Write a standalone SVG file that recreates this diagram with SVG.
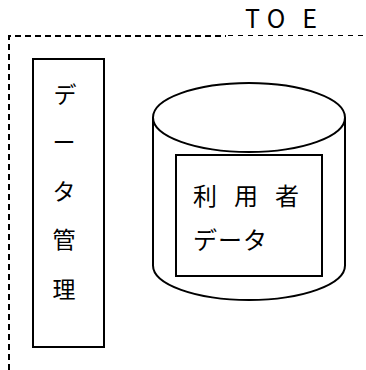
<svg xmlns="http://www.w3.org/2000/svg" width="366" height="370" viewBox="0 0 366 370">
<style>
.ln{fill:none;stroke:#000;stroke-width:2}
.thin{fill:none;stroke:#000;stroke-width:1}
.jp{font-family:"Noto Sans CJK JP","Noto Sans",sans-serif;fill:#000}
</style>
<rect width="366" height="370" fill="#fff"/>
<g id="toe">
<path class="ln" d="M9,370 V36 H226" stroke-dasharray="6 4"/>
<path class="thin" d="M228,35.5 H366" stroke-dasharray="5 5"/>
<g class="jp" font-size="25" text-anchor="middle">
<text x="252.5" y="28">T</text>
<text x="276" y="28">O</text>
<text x="309.5" y="28">E</text>
</g>
</g>
<g id="data-mgmt">
<rect class="ln" x="33" y="59" width="71" height="288"/>
<g class="jp" font-size="23" text-anchor="middle" dominant-baseline="central">
<text x="65" y="92.5">デ</text>
<text x="64" y="141">ー</text>
<text x="64" y="190">タ</text>
<text x="64" y="237.5">管</text>
<text x="64" y="287.5">理</text>
</g>
</g>
<g id="user-db">
<path class="ln" d="M153,117.5 V265.5 A96,34.5 0 0 0 345,265.5 V117.5"/>
<ellipse class="ln" cx="249" cy="117.5" rx="96" ry="34.5"/>
<rect class="ln" x="176" y="155" width="146" height="121"/>
<g class="jp" font-size="24" dominant-baseline="central">
<text x="193" y="194" letter-spacing="17">利用者</text>
<text x="193" y="238.5" letter-spacing="1">データ</text>
</g>
</g>
</svg>
